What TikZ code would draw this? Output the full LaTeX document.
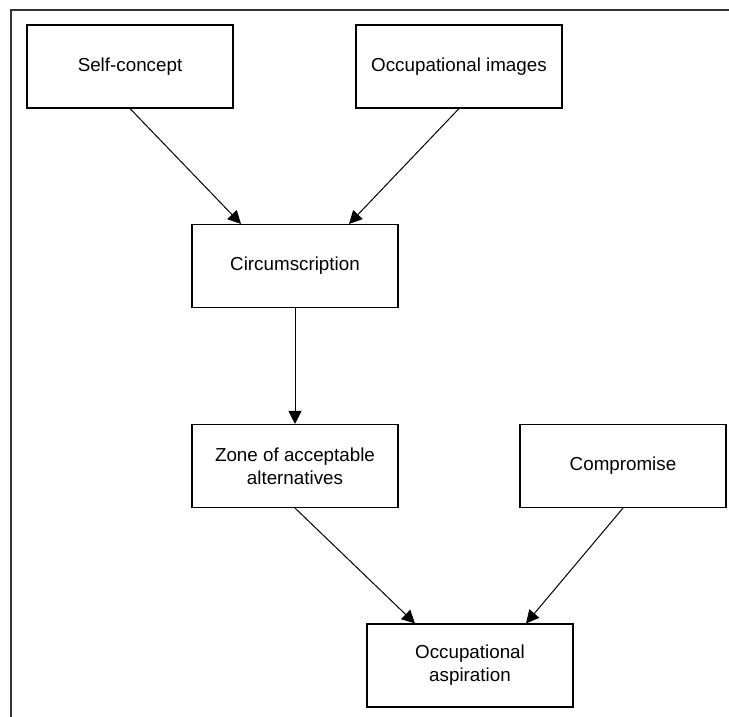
\documentclass[tikz,border=0pt]{standalone}
\usepackage{fontspec}
\setmainfont{Liberation Sans}
\usetikzlibrary{arrows.meta}

\begin{document}
\begin{tikzpicture}[x=0.5pt, y=-0.5pt,
	stage/.style={draw, line width=0.55pt, minimum width=103pt, minimum height=41.5pt, inner sep=0pt, align=center, font=\fontsize{9.4}{11.5}\selectfont},
	link/.style={line width=0.5pt, -{Triangle[length=6.5pt, width=6.5pt]}}]
	\useasboundingbox (0,0) rectangle (729,717);
	%% frame
	\draw[line width=0.9pt, black!80] (11,717) -- (11,10) -- (729,10);
	\node[stage] (self) at (130,66.5) {Self-concept};
	\node[stage] (images) at (459,66.5) {Occupational images};
	\node[stage] (circ) at (295,266) {Circumscription};
	\node[stage] (zone) at (295,466) {Zone of acceptable\\alternatives};
	\node[stage] (comp) at (623,466) {Compromise};
	\node[stage] (asp) at (470,665.5) {Occupational\\aspiration};
	\draw[link] (self.south) -- ([xshift=-27pt]circ.north);
	\draw[link] (images.south) -- ([xshift=27pt]circ.north);
	\draw[link] (circ.south) -- (zone.north);
	\draw[link] (zone.south) -- ([xshift=-27.5pt]asp.north);
	\draw[link] (comp.south) -- ([xshift=28pt]asp.north);
\end{tikzpicture}
\end{document}
